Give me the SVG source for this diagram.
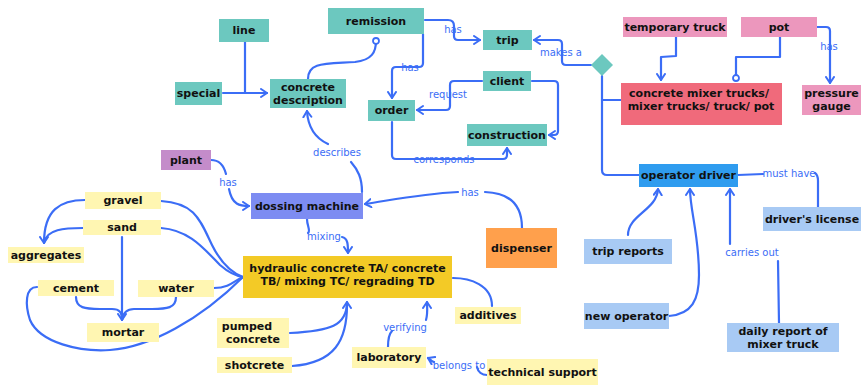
<svg xmlns="http://www.w3.org/2000/svg" width="865" height="386" viewBox="0 0 865 386">
<style>
.n text{font-family:"DejaVu Sans",Verdana,sans-serif;font-weight:bold;font-size:11px;fill:#111;text-anchor:middle;dominant-baseline:central}
.teal{fill:#6cc8bf}.pink{fill:#ec97bd}.red{fill:#f06a7b}.op{fill:#2f9cef}.lb{fill:#a8caf4}.ly{fill:#fff6b2}.hy{fill:#f3ca26}.dm{fill:#7d8cf2}.pl{fill:#c48cca}.ds{fill:#ffa04c}
#edges path{fill:none;stroke:#3b6df6;stroke-width:2.2;stroke-linecap:round;stroke-linejoin:round}
.lbl{font-family:"DejaVu Sans",sans-serif;font-size:10px;fill:#3b6df6;text-anchor:middle;dominant-baseline:central}
</style>
<defs>
<marker id="a" markerUnits="userSpaceOnUse" markerWidth="12" markerHeight="12" refX="7" refY="5" orient="auto">
<path d="M1,1 L7,5 L1,9" fill="none" stroke="#3b6df6" stroke-width="2" stroke-linecap="round" stroke-linejoin="round"/>
</marker>
<marker id="c" markerUnits="userSpaceOnUse" markerWidth="10" markerHeight="10" refX="5" refY="5" orient="auto">
<circle cx="5" cy="5" r="3" fill="#fff" stroke="#3b6df6" stroke-width="1.8"/>
</marker>
</defs>
<rect width="865" height="386" fill="#fff"/>
<g id="edges">
<path d="M245,42 L245,93"/>
<path d="M223,93 L267,93" marker-end="url(#a)"/>
<path d="M308,79 C308,62 325,64 355,62 C372,60 376,52 376,41" marker-end="url(#c)"/>
<path d="M425,20 L448,20 Q454,20 454,26 L454,36 Q454,40 458,40 L480,40" marker-end="url(#a)"/>
<path d="M423,34 L423,63 Q423,67 419,67 L396,67 Q392,67 392,71 L392,98" marker-end="url(#a)"/>
<path d="M482,81 L454,81 Q450,81 450,85 L450,106 Q450,110 446,110 L417,110" marker-end="url(#a)"/>
<path d="M532,81 L554,81 Q558,81 558,85 L558,131 Q558,135 554,135 L549,135" marker-end="url(#a)"/>
<path d="M392,122 L392,155 Q392,159 396,159 L503,159 Q507,159 507,155 L507,148" marker-end="url(#a)"/>
<path d="M591,65 L566,65 Q562,65 562,61 L562,44 Q562,40 558,40 L534,40" marker-end="url(#a)"/>
<path d="M602,76 L602,170 Q602,175 607,175 L639,175"/>
<path d="M602,100 L621,100"/>
<path d="M676,37 L676,56 L661,57 L661,80" marker-end="url(#a)"/>
<path d="M780,37 L780,57 L736,57 L736,78" marker-end="url(#c)"/>
<path d="M817,27 L826,27 Q830,27 830,31 L830,83" marker-end="url(#a)"/>
<path d="M738,175 L763,174"/>
<path d="M815,173 Q818,175 818,181 L818,207"/>
<path d="M628,235 C628,215 657,210 658,189" marker-end="url(#a)"/>
<path d="M669,316 C692,314 699,300 699,275 C699,235 690,210 690,189" marker-end="url(#a)"/>
<path d="M779,323 L778,261"/>
<path d="M730,244 L730,189" marker-end="url(#a)"/>
<path d="M211,160 C220,160 224,166 226,174"/>
<path d="M229,189 C232,205 240,206 249,206" marker-end="url(#a)"/>
<path d="M362,192 C362,178 358,170 351,162"/>
<path d="M328,144 C315,138 308,128 307,111" marker-end="url(#a)"/>
<path d="M522,228 C522,210 515,193 485,192"/>
<path d="M458,192 C420,194 392,200 365,204" marker-end="url(#a)"/>
<path d="M307,219 C307,226 311,231 308,233"/>
<path d="M342,237 C348,238 348,245 348,253" marker-end="url(#a)"/>
<path d="M161,201 C195,203 200,220 212,245 C222,265 232,273 243,277"/>
<path d="M161,228 C190,230 205,250 220,265 C228,272 236,276 243,277"/>
<path d="M214,288 C230,288 235,280 243,277"/>
<path d="M37,287 C25,287 25,305 30,320 C40,343 80,352 110,350 C150,347 200,320 243,277"/>
<path d="M85,200 C60,200 44,210 44,243" marker-end="url(#a)"/>
<path d="M83,228 C65,228 46,229 44,243"/>
<path d="M122,237 L122,320" marker-end="url(#a)"/>
<path d="M76,297 C76,308 85,309 100,309 L112,309 C120,309 122,313 122,320"/>
<path d="M176,297 C176,308 167,309 152,309 L134,309 C126,309 123,313 122,320"/>
<path d="M290,333 C330,331 347,326 347,302" marker-end="url(#a)"/>
<path d="M292,366 C335,363 347,340 347,305"/>
<path d="M492,306 C492,285 470,278 453,278"/>
<path d="M388,347 C388,338 390,333 392,331"/>
<path d="M426,320 C428,313 427,308 427,302" marker-end="url(#a)"/>
<path d="M487,375 C482,375 478,372 477,367"/>
<path d="M434,362 C431,361 430,359 428,358" marker-end="url(#a)"/>
</g>
<g id="labels">
<text class="lbl" x="453" y="29">has</text>
<text class="lbl" x="410" y="67">has</text>
<text class="lbl" x="448" y="94">request</text>
<text class="lbl" x="444" y="159">corresponds</text>
<text class="lbl" x="561" y="52">makes a</text>
<text class="lbl" x="829" y="46">has</text>
<text class="lbl" x="789" y="173">must have</text>
<text class="lbl" x="752" y="252">carries out</text>
<text class="lbl" x="228" y="182">has</text>
<text class="lbl" x="337" y="152">describes</text>
<text class="lbl" x="470" y="192">has</text>
<text class="lbl" x="324" y="236">mixing</text>
<text class="lbl" x="405" y="327">verifying</text>
<text class="lbl" x="459" y="365">belongs to</text>
</g>
<g id="line" class="n"><rect class="teal" x="219" y="19" width="50" height="23"/><text x="244" y="30.5">line</text></g>
<g id="special" class="n"><rect class="teal" x="175" y="82" width="47" height="23"/><text x="198.5" y="93.5">special</text></g>
<g id="concrete-description" class="n"><rect class="teal" x="270" y="79" width="76" height="29"/><text x="308" y="87">concrete</text><text x="308" y="100">description</text></g>
<g id="remission" class="n"><rect class="teal" x="328" y="8" width="96" height="26"/><text x="376" y="21">remission</text></g>
<g id="trip" class="n"><rect class="teal" x="483" y="30" width="49" height="20"/><text x="507.5" y="40">trip</text></g>
<g id="client" class="n"><rect class="teal" x="483" y="71" width="48" height="20"/><text x="507" y="81">client</text></g>
<g id="order" class="n"><rect class="teal" x="368" y="100" width="47" height="21"/><text x="391.5" y="110.5">order</text></g>
<g id="construction" class="n"><rect class="teal" x="467" y="124" width="80" height="22"/><text x="507" y="135">construction</text></g>
<g id="decision"><polygon class="teal" points="602,54 613,65 602,76 591,65"/></g>
<g id="temporary-truck" class="n"><rect class="pink" x="623" y="17" width="104" height="20"/><text x="675" y="27">temporary truck</text></g>
<g id="pot" class="n"><rect class="pink" x="741" y="17" width="76" height="20"/><text x="779" y="27">pot</text></g>
<g id="mixer-trucks" class="n"><rect class="red" x="621" y="83" width="161" height="42"/><text x="699" y="93">concrete mixer trucks/</text><text x="701" y="106">mixer trucks/ truck/ pot</text></g>
<g id="pressure-gauge" class="n"><rect class="pink" x="802" y="85" width="59" height="30"/><text x="831.5" y="93.5">pressure</text><text x="831.5" y="106.5">gauge</text></g>
<g id="operator-driver" class="n"><rect class="op" x="639" y="164" width="99" height="23"/><text x="688.5" y="175.5">operator driver</text></g>
<g id="drivers-license" class="n"><rect class="lb" x="763" y="207" width="98" height="24"/><text x="812" y="219">driver's license</text></g>
<g id="trip-reports" class="n"><rect class="lb" x="584" y="239" width="88" height="25"/><text x="628" y="251.5">trip reports</text></g>
<g id="new-operator" class="n"><rect class="lb" x="584" y="303" width="85" height="26"/><text x="626.5" y="316">new operator</text></g>
<g id="daily-report" class="n"><rect class="lb" x="727" y="323" width="112" height="29"/><text x="783" y="331">daily report of</text><text x="783" y="344">mixer truck</text></g>
<g id="dossing-machine" class="n"><rect class="dm" x="251" y="193" width="112" height="26"/><text x="307" y="206">dossing machine</text></g>
<g id="plant" class="n"><rect class="pl" x="161" y="150" width="50" height="20"/><text x="186" y="160">plant</text></g>
<g id="dispenser" class="n"><rect class="ds" x="486" y="228" width="71" height="40"/><text x="521.5" y="248">dispenser</text></g>
<g id="hydraulic-concrete" class="n"><rect class="hy" x="243" y="256" width="209" height="42"/><text x="347.5" y="268">hydraulic concrete TA/ concrete</text><text x="347.5" y="281">TB/ mixing TC/ regrading TD</text></g>
<g id="gravel" class="n"><rect class="ly" x="85" y="192" width="76" height="17"/><text x="123" y="200.5">gravel</text></g>
<g id="sand" class="n"><rect class="ly" x="83" y="220" width="78" height="15"/><text x="122" y="227.5">sand</text></g>
<g id="aggregates" class="n"><rect class="ly" x="8" y="247" width="76" height="16"/><text x="46" y="255">aggregates</text></g>
<g id="cement" class="n"><rect class="ly" x="38" y="280" width="76" height="16"/><text x="76" y="288">cement</text></g>
<g id="water" class="n"><rect class="ly" x="138" y="280" width="76" height="17"/><text x="176" y="288.5">water</text></g>
<g id="mortar" class="n"><rect class="ly" x="87" y="323" width="72" height="19"/><text x="123" y="332.5">mortar</text></g>
<g id="pumped-concrete" class="n"><rect class="ly" x="217" y="318" width="72" height="30"/><text x="247" y="326">pumped</text><text x="253" y="339">concrete</text></g>
<g id="shotcrete" class="n"><rect class="ly" x="217" y="357" width="75" height="16"/><text x="254.5" y="365">shotcrete</text></g>
<g id="additives" class="n"><rect class="ly" x="455" y="307" width="66" height="17"/><text x="488" y="315.5">additives</text></g>
<g id="laboratory" class="n"><rect class="ly" x="352" y="347" width="74" height="21"/><text x="389" y="357.5">laboratory</text></g>
<g id="technical-support" class="n"><rect class="ly" x="487" y="359" width="111" height="26"/><text x="542.5" y="372">technical support</text></g>
</svg>
